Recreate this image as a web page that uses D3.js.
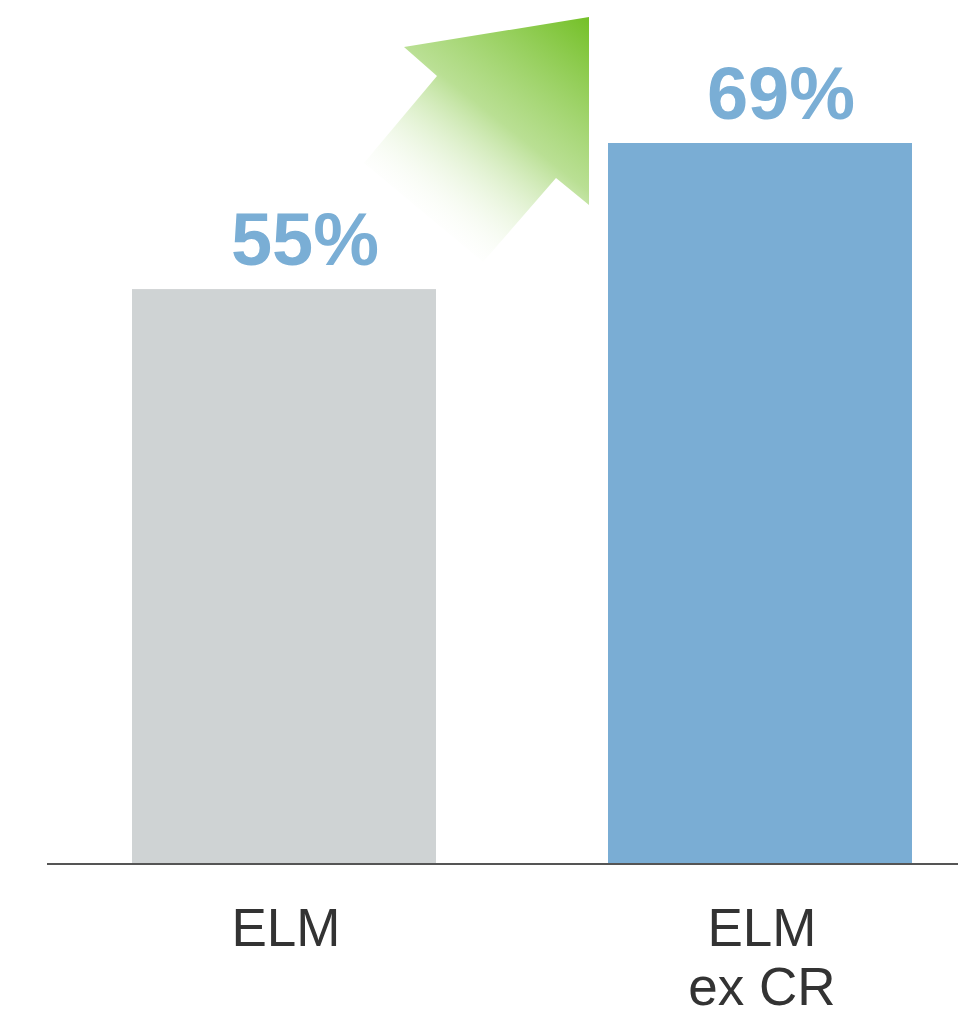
<!DOCTYPE html>
<html>
<head>
<meta charset="utf-8">
<script src="https://cdn.jsdelivr.net/npm/d3@7/dist/d3.min.js"></script>
<style>
html,body{margin:0;padding:0;background:#fff;}
svg{display:block;}
</style>
</head>
<body>
<svg id="chart" width="958" height="1016"></svg>
<script>
const categories = ["ELM", "ELM ex CR"];
const categoryLines = [["ELM"], ["ELM", "ex CR"]];
const values = [55, 69];
const valueLabels = ["55%", "69%"];
const barColors = ["#cfd3d4", "#7aadd4"];

const svg = d3.select("#chart");

const x = d3.scaleBand()
  .domain(categories)
  .range([46, 998])
  .paddingInner(172 / 476)
  .paddingOuter(86 / 476);

const y = d3.scaleLinear().domain([0, 69]).range([863, 143]);

// gradient arrow
const defs = svg.append("defs");
const grad = defs.append("linearGradient")
  .attr("id", "arrowGrad")
  .attr("gradientUnits", "userSpaceOnUse")
  .attr("x1", 590).attr("y1", 18)
  .attr("x2", 420).attr("y2", 232);
grad.append("stop").attr("offset", 0).attr("stop-color", "#74c027").attr("stop-opacity", 1);
grad.append("stop").attr("offset", 0.5).attr("stop-color", "#8fcc52").attr("stop-opacity", 0.62);
grad.append("stop").attr("offset", 1).attr("stop-color", "#ffffff").attr("stop-opacity", 0);

const arrowPts = [[589,17],[589,205],[556,178],[483,262],[364,163],[437,76],[404,47]];
svg.append("path")
  .attr("d", d3.line()(arrowPts) + "Z")
  .attr("fill", "url(#arrowGrad)");

// bars
svg.selectAll("rect.bar")
  .data(categories)
  .join("rect")
  .attr("class", "bar")
  .attr("x", d => x(d))
  .attr("width", x.bandwidth())
  .attr("y", (d, i) => y(values[i]))
  .attr("height", (d, i) => y(0) - y(values[i]))
  .attr("fill", (d, i) => barColors[i]);

// axis line
svg.append("line")
  .attr("x1", 47).attr("x2", 958)
  .attr("y1", y(0) + 1).attr("y2", y(0) + 1)
  .attr("stroke", "#555").attr("stroke-width", 2);

// value labels
svg.selectAll("text.val")
  .data(categories)
  .join("text")
  .attr("class", "val")
  .attr("x", d => x(d) + x.bandwidth() / 2 + 21)
  .attr("y", (d, i) => y(values[i]) - 24)
  .attr("text-anchor", "middle")
  .attr("font-family", "Liberation Sans, Arial, sans-serif")
  .attr("font-weight", "bold")
  .attr("font-size", 74)
  .attr("fill", "#7aaed5")
  .text((d, i) => valueLabels[i]);

// category labels
categories.forEach((c, i) => {
  const t = svg.append("text")
    .attr("text-anchor", "middle")
    .attr("font-family", "Liberation Sans, Arial, sans-serif")
    .attr("font-size", 53)
    .attr("fill", "#333");
  categoryLines[i].forEach((ln, j) => {
    t.append("tspan")
      .attr("x", x(c) + x.bandwidth() / 2 + 2)
      .attr("y", 946 + j * 59)
      .text(ln);
  });
});
</script>
</body>
</html>
